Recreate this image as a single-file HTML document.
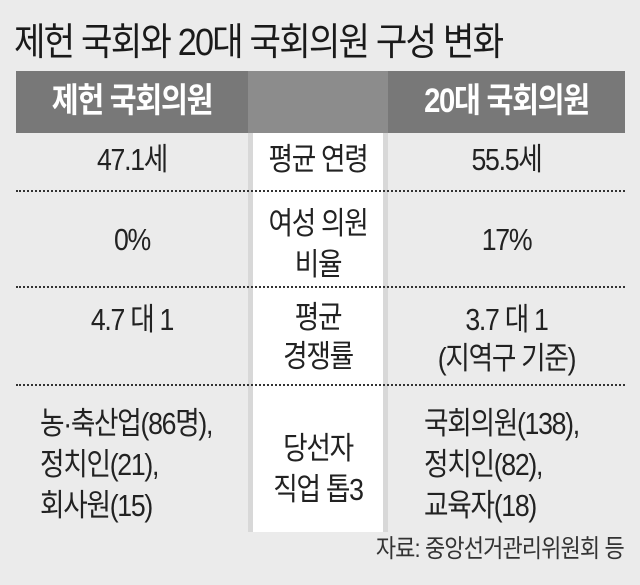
<!DOCTYPE html>
<html><head><meta charset="utf-8"><style>
body{margin:0;width:640px;height:585px;background:#ebebeb;position:relative;overflow:hidden;font-family:"Liberation Sans","Noto Sans CJK KR",sans-serif;color:#222}
.a{position:absolute;white-space:nowrap;line-height:1}
.c{text-align:center;transform:scaleX(0.86);transform-origin:center}
.t{font-size:31px;letter-spacing:-1.5px}
.l{transform:scaleX(0.86);transform-origin:left}
.dot{position:absolute;left:16px;width:609px;height:0;border-top:2px dotted #333}
</style></head><body>
<div class="a l" style="left:14px;top:24px;font-size:38px;letter-spacing:-2px;color:#1a1a1a;transform:scaleX(0.9)">제헌 국회와 20대 국회의원 구성 변화</div>
<div class="a" style="left:16px;top:71px;width:609px;height:62px;background:#787878"></div>
<div class="a" style="left:248px;top:71px;width:140px;height:62px;background:#8c8c8c"></div>
<div class="a" style="left:248px;top:133px;width:140px;height:399px;background:#d8d8d8"></div>
<div class="a" style="left:253px;top:133px;width:130px;height:399px;background:#fff"></div>
<div class="a c" style="left:16px;top:84px;width:232px;font-size:34px;font-weight:bold;color:#fff;letter-spacing:-1.5px">제헌 국회의원</div>
<div class="a c" style="left:388px;top:84px;width:237px;font-size:34px;font-weight:bold;color:#fff;letter-spacing:-1.5px">20대 국회의원</div>

<div class="a c t" style="left:16px;top:144px;width:232px">47.1세</div>
<div class="a c t" style="left:248px;top:144px;width:140px">평균 연령</div>
<div class="a c t" style="left:388px;top:144px;width:237px">55.5세</div>
<div class="dot" style="top:190px"></div>

<div class="a c t" style="left:16px;top:224px;width:232px">0%</div>
<div class="a c t" style="left:248px;top:203px;width:140px;line-height:41px">여성 의원<br>비율</div>
<div class="a c t" style="left:388px;top:224px;width:237px">17%</div>
<div class="dot" style="top:286px"></div>

<div class="a c t" style="left:16px;top:304px;width:232px">4.7 대 1</div>
<div class="a c t" style="left:248px;top:298px;width:140px;line-height:39px">평균<br>경쟁률</div>
<div class="a c t" style="left:388px;top:300px;width:237px;line-height:39px">3.7 대 1<br>(지역구 기준)</div>
<div class="dot" style="top:384px"></div>

<div class="a t l" style="left:40px;top:403px;line-height:41px">농·축산업(86명),<br>정치인(21),<br>회사원(15)</div>
<div class="a c t" style="left:248px;top:428px;width:140px;line-height:41px">당선자<br>직업 톱3</div>
<div class="a t l" style="left:424px;top:403px;line-height:41px">국회의원(138),<br>정치인(82),<br>교육자(18)</div>

<div class="a" style="right:16px;top:537px;font-size:25px;letter-spacing:-1px;color:#333;transform:scaleX(0.88);transform-origin:right">자료: 중앙선거관리위원회 등</div>
</body></html>
